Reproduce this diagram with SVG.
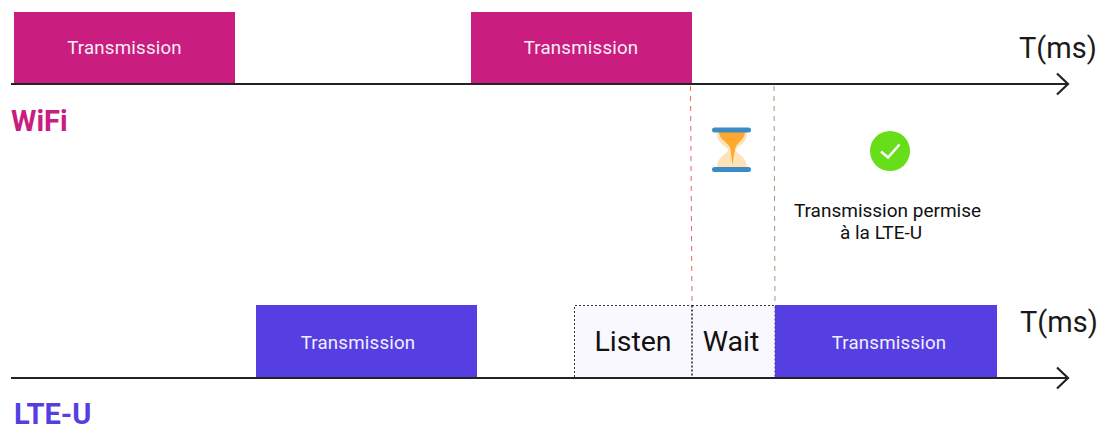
<svg xmlns="http://www.w3.org/2000/svg" width="1103" height="428" viewBox="0 0 1103 428">
<style>
text{font-family:Roboto,"Liberation Sans",sans-serif}
.tx{font-size:18.700px;fill:#fbeff6;text-anchor:middle;letter-spacing:.2px}
.tx2{font-size:18.700px;fill:#f1effd;text-anchor:middle;letter-spacing:.2px}
.big{font-size:28.500px;fill:#111;text-anchor:middle}
.t{font-size:29px;fill:#1a1a1a}
.cap{font-size:19px;fill:#111;text-anchor:middle}
.axis{fill:none;stroke:#222;stroke-width:2.200}
.wifi{fill:#c91d80}
.lte{fill:#563fe2}
.boxfill{fill:#f9f8fe}
.boxline{fill:none;stroke:#333;stroke-width:1;stroke-dasharray:2 2}
</style>
<g id="connectors">
<path class="axis" d="M11 84H1068M1057 73.500L1068 84L1057 94.500"/>
<path class="axis" d="M11 378H1068M1057 367.500L1068 378L1057 388.500"/>
<path d="M690.500 86L692 305" fill="none" stroke="#f0606a" stroke-width="1" stroke-dasharray="5 5"/>
<path d="M774 86L775 305" fill="none" stroke="#7fab72" stroke-width="1" stroke-dasharray="5 5"/>
</g>
<g id="wifi-tx-1"><rect class="wifi" x="14" y="12" width="221" height="71"/><text class="tx" x="124.500" y="54">Transmission</text></g>
<g id="wifi-tx-2"><rect class="wifi" x="471" y="12" width="221" height="71"/><text class="tx" x="581" y="54">Transmission</text></g>
<g id="wifi-label"><text x="11" y="131" font-size="29" font-weight="700" fill="#c91d80">WiFi</text></g>
<g id="t-wifi"><text class="t" x="1019" y="58">T(ms)</text></g>
<g id="hourglass">
<path d="M717 132H747C747 146 737 145 736 150C737 155 747 156 747 168H717C717 156 727 155 728 150C727 145 717 146 717 132Z" fill="#fde3b5"/>
<path d="M719 131H745C745 141 737 141 735 149L732.500 165L730.500 149C728 141 719 141 719 131Z" fill="#fea82f"/>
<rect x="712" y="127.500" width="39" height="5" rx="2.500" fill="#3c8bc6"/>
<rect x="712" y="167" width="39" height="5" rx="2.500" fill="#3c8bc6"/>
</g>
<g id="check">
<circle cx="890" cy="151" r="20" fill="#66df1a"/>
<path d="M881 151.500L888 157.500L899.500 144.500" fill="none" stroke="#fff" stroke-width="2.500"/>
</g>
<g id="permise"><text class="cap" x="887.500" y="217">Transmission permise</text><text class="cap" x="881" y="239">à la LTE-U</text></g>
<g id="lte-tx-1"><rect class="lte" x="256" y="305" width="221" height="72"/><text class="tx2" x="358" y="349">Transmission</text></g>
<g id="listen"><rect class="boxfill" x="574.500" y="305.500" width="117.500" height="71"/><path class="boxline" d="M574.500 377V305.500H692"/><text class="big" x="633" y="351">Listen</text></g>
<g id="wait"><rect class="boxfill" x="692" y="305.500" width="83" height="71"/><path class="boxline" d="M692 305.500H775V377"/><path d="M692 305.500V377" fill="none" stroke="#222" stroke-width="1.500" stroke-dasharray="2 2"/><text class="big" x="731" y="351">Wait</text></g>
<g id="lte-tx-2"><rect class="lte" x="775" y="305" width="222" height="72"/><text class="tx2" x="889" y="349">Transmission</text></g>
<g id="lte-label"><text x="14" y="424" font-size="29" font-weight="700" fill="#563fe2">LTE-U</text></g>
<g id="t-lte"><text class="t" x="1020" y="332">T(ms)</text></g>
</svg>
